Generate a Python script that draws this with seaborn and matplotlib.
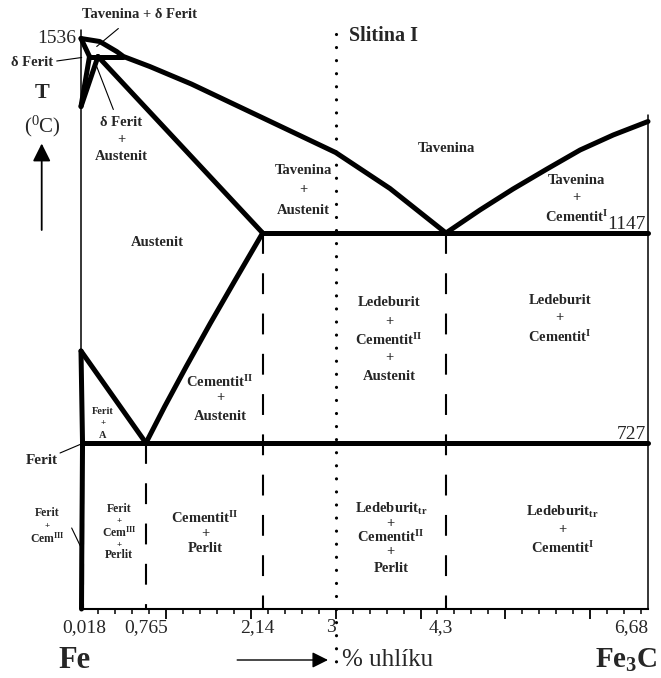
import numpy as np
import pandas as pd
import matplotlib
matplotlib.use("Agg")
import matplotlib.pyplot as plt
import seaborn as sns

# ---- Fe–Fe3C phase boundaries (wt. % C, temperature in °C) ----
liquidus_low_x = [0.0, 0.22, 0.42, 0.5, 0.81, 1.3, 2.07, 3.0, 3.64, 4.3]
liquidus_low_t = [1536, 1530, 1510, 1500, 1480, 1445, 1383, 1308, 1236, 1147]
liquidus_high_x = [4.3, 4.70, 5.09, 5.49, 5.88, 6.27, 6.68]
liquidus_high_t = [1147, 1193, 1235, 1275, 1313, 1343, 1370]
delta_solidus_x = [0.0, 0.1]
delta_solidus_t = [1536, 1500]
delta_solvus_x = [0.1, 0.0]
delta_solvus_t = [1500, 1400]
delta_gamma_x = [0.2, 0.0]
delta_gamma_t = [1500, 1400]
peritectic_x = [0.1, 0.5]
peritectic_t = [1500, 1500]
solidus_x = [0.2, 2.14]
solidus_t = [1500, 1147]
eutectic_x = [2.14, 6.68]
eutectic_t = [1147, 1147]
acm_x = [2.14, 1.807, 1.522, 1.24, 0.986, 0.765]
acm_t = [1147, 1050, 966, 880, 800, 727]
a3_x = [0.0, 0.765]
a3_t = [911, 727]
gp_x = [0.0, 0.018]
gp_t = [911, 727]
eutectoid_x = [0.018, 6.68]
eutectoid_t = [727, 727]
pq_x = [0.018, 0.014, 0.009, 0.006]
pq_t = [727, 620, 500, 395]

# composition guide lines
guide_x = [0.018, 0.765, 2.14, 4.3]
guide_top = [727, 727, 1147, 1147]
alloy_x = 3.0

# axis
t_min, t_max = 395, 1613
x_max = 6.68
tick_values = [0.018, 0.765, 2.14, 3, 4.3, 6.68]
tick_texts = ["0,018", "0,765", "2,14", "3", "4,3", "6,68"]
tick_shift = [1, 0, -4, -3.5, -4, 0]

curves = {
    "liquidus_low": (liquidus_low_x, liquidus_low_t),
    "liquidus_high": (liquidus_high_x, liquidus_high_t),
    "delta_solidus": (delta_solidus_x, delta_solidus_t),
    "delta_solvus": (delta_solvus_x, delta_solvus_t),
    "delta_gamma": (delta_gamma_x, delta_gamma_t),
    "peritectic": (peritectic_x, peritectic_t),
    "solidus": (solidus_x, solidus_t),
    "eutectic": (eutectic_x, eutectic_t),
    "acm": (acm_x, acm_t),
    "a3": (a3_x, a3_t),
    "gp": (gp_x, gp_t),
    "eutectoid": (eutectoid_x, eutectoid_t),
    "pq": (pq_x, pq_t),
}
rows = []
for name, (xs, ts) in curves.items():
    for i, (c, t) in enumerate(zip(xs, ts)):
        rows.append((name, i, c, t))
lines_df = pd.DataFrame(rows, columns=["curve", "order", "carbon", "temp"])

sns.set_theme(style="white")
plt.rcParams["font.family"] = ["Liberation Serif", "DejaVu Serif"]
plt.rcParams["mathtext.fontset"] = "custom"
plt.rcParams["mathtext.rm"] = "Liberation Serif"
plt.rcParams["mathtext.bf"] = "Liberation Serif:bold"
plt.rcParams["mathtext.it"] = "Liberation Serif:italic"
plt.rcParams["lines.scale_dashes"] = False

fig = plt.figure(figsize=(6.61, 6.78), dpi=100)
ax = fig.add_axes([81 / 661, 69 / 678, 567 / 661, 609 / 678])
ax.set_xlim(0, x_max)
ax.set_ylim(t_min, t_max)

# phase boundaries
sns.lineplot(data=lines_df, x="carbon", y="temp", units="curve", estimator=None,
             sort=False, color="black", linewidth=3.6, legend=False, ax=ax,
             solid_capstyle="round", solid_joinstyle="round", clip_on=False)

# frame lines
ax.plot([0, 0], [t_min, 1553], color="black", lw=1.1, clip_on=False)
ax.plot([x_max, x_max], [t_min, 1383], color="black", lw=1.1, clip_on=False)

# dashed composition guides
for gx, gt in zip(guide_x, guide_top):
    ax.plot([gx, gx], [gt, t_min], color="black", lw=1.5,
            linestyle=(0, (15, 14)))

# dotted alloy line
ax.plot([alloy_x, alloy_x], [1545, 273], color="black", lw=2.3,
        linestyle=(0, (0.01, 9.4)), dash_capstyle="round", clip_on=False)

# spines and ticks
for side in ["left", "right", "top"]:
    ax.spines[side].set_visible(False)
ax.spines["bottom"].set_linewidth(1.5)
ax.spines["bottom"].set_color("black")
ax.set_xticks(np.arange(1, 7))
ax.set_xticks([v for v in np.round(np.arange(0.2, 6.61, 0.2), 1) if v % 1 != 0], minor=True)
ax.tick_params(axis="x", which="major", bottom=True, direction="out", length=7,
               width=1.3, color="black", labelbottom=False)
ax.tick_params(axis="x", which="minor", bottom=True, direction="out", length=3.5,
               width=1.1, color="black")
ax.set_yticks([])
ax.set_xlabel("")
ax.set_ylabel("")

for v, s, dx in zip(tick_values, tick_texts, tick_shift):
    ha = "right" if v == x_max else "center"
    ax.annotate(s, xy=(v, t_min), xytext=(dx, -13.5), textcoords="offset points",
                ha=ha, va="center", fontsize=14, annotation_clip=False)

# temperature labels
ax.annotate("1536", xy=(-0.06, 1536), ha="right", va="center", fontsize=14,
            annotation_clip=False)
ax.annotate("1147", xy=(x_max, 1147), xytext=(-1.5, 3), textcoords="offset points",
            ha="right", va="baseline", fontsize=14)
ax.annotate("727", xy=(x_max, 727), xytext=(-1.5, 3), textcoords="offset points",
            ha="right", va="baseline", fontsize=14)


def stack(x, temps, texts, size=10.5, plus_size=None):
    for t, s in zip(temps, texts):
        fs = plus_size if (s == "+" and plus_size) else size
        ax.text(x, t, s, ha="center", va="center", fontsize=fs,
                fontweight="bold", clip_on=False)


def leader(x0, t0, x1, t1):
    ax.plot([x0, x1], [t0, t1], color="black", lw=0.8, clip_on=False)


# phase field labels
ax.text(0.695, 1583, "Tavenina + δ Ferit", ha="center", va="center",
        fontsize=10.5, fontweight="bold", clip_on=False)
leader(0.44, 1556, 0.185, 1520)
ax.text(-0.33, 1489, "δ Ferit", ha="right", va="center", fontsize=10.5,
        fontweight="bold", clip_on=False)
leader(-0.286, 1491, 0.008, 1498)
stack(0.471, [1369, 1333, 1299], ["δ Ferit", "+", "Austenit"])
leader(0.381, 1394, 0.185, 1480)

ax.text(3.157, 1541, "Slitina I", ha="left", va="center", fontsize=14.5,
        fontweight="bold", clip_on=False)
stack(4.31, [1317], ["Tavenina"])
stack(2.615, [1273, 1235, 1193], ["Tavenina", "+", "Austenit"])
stack(5.84, [1253, 1217, 1179], ["Tavenina", "+", r"Cementit$^{\mathbf{I}}$"])
stack(0.895, [1127], ["Austenit"])
stack(1.64, [849, 817, 779], [r"Cementit$^{\mathbf{II}}$", "+", "Austenit"])
stack(3.63, [1007, 969, 933, 897, 859],
      ["Ledeburit", "+", r"Cementit$^{\mathbf{II}}$", "+", "Austenit"])
stack(5.64, [1013, 977, 939], ["Ledeburit", "+", r"Cementit$^{\mathbf{I}}$"])
stack(0.26, [789, 767, 743], ["Ferit", "+", "A"], size=7.5, plus_size=6.5)

ax.text(-0.46, 693, "Ferit", ha="center", va="center", fontsize=11,
        fontweight="bold", clip_on=False)
leader(-0.247, 707, 0.03, 727)
stack(-0.40, [586, 561, 536], ["Ferit", "+", r"Cem$^{\mathbf{III}}$"],
      size=8.5, plus_size=6.5)
leader(-0.11, 557, -0.005, 520)
stack(0.448, [596, 571, 548, 524, 502],
      ["Ferit", "+", r"Cem$^{\mathbf{III}}$", "+", "Perlit"],
      size=8.5, plus_size=6.5)
stack(1.46, [577, 547, 515], [r"Cementit$^{\mathbf{II}}$", "+", "Perlit"])
stack(3.65, [595, 565, 539, 511, 477],
      [r"Ledeburit$_{\mathbf{tr}}$", "+", r"Cementit$^{\mathbf{II}}$", "+", "Perlit"])
stack(5.67, [589, 553, 517],
      [r"Ledeburit$_{\mathbf{tr}}$", "+", r"Cementit$^{\mathbf{I}}$"])

# axis titles and arrows
ax.text(-0.463, 1426, "T", ha="center", va="center", fontsize=16,
        fontweight="bold", clip_on=False)
ax.text(-0.45, 1360, r"($^{0}$C)", ha="center", va="center", fontsize=15,
        clip_on=False)
ax.annotate("", xy=(-0.463, 1326), xytext=(-0.463, 1153), annotation_clip=False,
            arrowprops=dict(arrowstyle="-|>,head_length=0.6,head_width=0.3",
                            color="black", lw=1.3, mutation_scale=18,
                            shrinkA=0, shrinkB=0))
ax.annotate("", xy=(2.91, 293), xytext=(1.84, 293), annotation_clip=False,
            arrowprops=dict(arrowstyle="-|>,head_length=0.6,head_width=0.3",
                            color="black", lw=1.0, mutation_scale=16,
                            shrinkA=0, shrinkB=0))
ax.text(3.075, 293, "% uhlíku", ha="left", va="center", fontsize=18,
        clip_on=False)
ax.text(-0.071, 293, "Fe", ha="center", va="center", fontsize=22,
        fontweight="bold", clip_on=False)
ax.text(6.79, 293, r"Fe$_{\mathbf{3}}$C", ha="right", va="center", fontsize=21,
        fontweight="bold", clip_on=False)

fig.savefig("out.png", dpi=100, facecolor="white")
